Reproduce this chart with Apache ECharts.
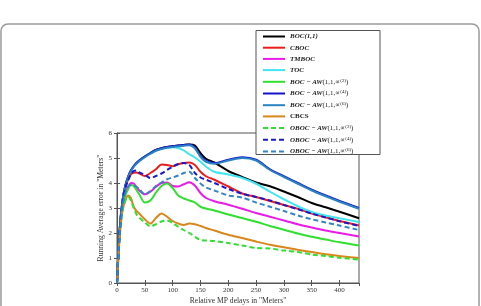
<!DOCTYPE html>
<html>
<head>
<meta charset="utf-8">
<script src="https://cdn.jsdelivr.net/npm/echarts@6/dist/echarts.min.js"></script>
<style>
  html, body { margin: 0; padding: 0; background: #fff; }
  #chart { width: 481px; height: 306px; }
</style>
</head>
<body>
<div id="chart"></div>
<script>
// x positions (relative MP delay, meters)
var delays = [0, 5, 10, 15, 20, 25, 30, 35, 40, 50, 60, 70, 80, 90, 100, 110, 120, 130, 140, 150, 160, 175, 200, 225, 250, 275, 300, 325, 350, 375, 400, 435];

// running average error per technique
var boc     = [0, 2.2, 3.3, 3.9, 4.25, 4.5, 4.67, 4.8, 4.9, 5.06, 5.2, 5.32, 5.39, 5.44, 5.47, 5.5, 5.52, 5.54, 5.5, 5.2, 4.97, 4.82, 4.48, 4.24, 4.02, 3.87, 3.66, 3.44, 3.2, 3.03, 2.85, 2.59];
var cboc    = [0, 2.1, 3.2, 3.8, 4.15, 4.35, 4.41, 4.42, 4.38, 4.28, 4.4, 4.55, 4.74, 4.72, 4.67, 4.75, 4.8, 4.82, 4.72, 4.45, 4.27, 4.13, 3.86, 3.58, 3.44, 3.28, 3.12, 2.97, 2.78, 2.63, 2.48, 2.3];
var tmboc   = [0, 2.0, 3.1, 3.6, 3.85, 4.0, 3.98, 3.83, 3.7, 3.55, 3.65, 3.85, 4.0, 4.02, 3.88, 3.86, 3.95, 4.03, 3.9, 3.6, 3.4, 3.27, 3.13, 2.97, 2.8, 2.65, 2.5, 2.35, 2.22, 2.1, 2.0, 1.86];
var toc     = [0, 2.2, 3.3, 3.9, 4.25, 4.5, 4.67, 4.8, 4.9, 5.06, 5.2, 5.3, 5.37, 5.42, 5.43, 5.4, 5.3, 5.15, 5.02, 4.85, 4.65, 4.45, 4.34, 4.2, 3.97, 3.65, 3.35, 3.07, 2.84, 2.7, 2.59, 2.44];
var bocAw2  = [0, 2.0, 3.0, 3.5, 3.75, 3.93, 3.88, 3.72, 3.55, 3.22, 3.3, 3.62, 3.88, 3.98, 3.8, 3.5, 3.38, 3.3, 3.22, 3.05, 2.98, 2.9, 2.74, 2.6, 2.45, 2.28, 2.13, 1.98, 1.85, 1.74, 1.63, 1.5];
var bocAw4  = [0, 2.2, 3.3, 3.9, 4.25, 4.5, 4.67, 4.8, 4.9, 5.06, 5.2, 5.32, 5.39, 5.44, 5.47, 5.5, 5.52, 5.54, 5.42, 5.08, 4.88, 4.8, 4.93, 5.03, 4.93, 4.55, 4.27, 4.0, 3.73, 3.5, 3.28, 3.0];
var bocAw6  = [0, 2.18, 3.27, 3.87, 4.22, 4.47, 4.64, 4.77, 4.87, 5.03, 5.17, 5.29, 5.36, 5.41, 5.44, 5.47, 5.49, 5.51, 5.39, 5.05, 4.85, 4.77, 4.9, 5.0, 4.9, 4.52, 4.24, 3.97, 3.7, 3.47, 3.25, 2.97];
var cbcs    = [0, 1.9, 2.9, 3.3, 3.5, 3.4, 3.05, 2.88, 2.78, 2.55, 2.38, 2.6, 2.78, 2.65, 2.48, 2.38, 2.32, 2.38, 2.35, 2.28, 2.2, 2.1, 1.93, 1.8, 1.66, 1.53, 1.43, 1.33, 1.24, 1.15, 1.08, 1.0];
var obocAw2 = [0, 1.9, 2.9, 3.3, 3.45, 3.3, 3.0, 2.75, 2.62, 2.42, 2.27, 2.35, 2.46, 2.5, 2.4, 2.25, 2.12, 2.0, 1.85, 1.72, 1.7, 1.68, 1.6, 1.5, 1.4, 1.38, 1.3, 1.24, 1.14, 1.08, 1.01, 0.94];
var obocAw4 = [0, 2.1, 3.2, 3.8, 4.1, 4.35, 4.48, 4.5, 4.42, 4.33, 4.2, 4.28, 4.38, 4.52, 4.65, 4.76, 4.8, 4.72, 4.4, 4.22, 4.13, 4.0, 3.76, 3.57, 3.44, 3.3, 3.12, 2.95, 2.78, 2.62, 2.47, 2.28];
var obocAw6 = [0, 2.0, 3.1, 3.6, 3.85, 3.92, 3.9, 3.85, 3.76, 3.55, 3.68, 3.88, 4.02, 4.15, 4.22, 4.3, 4.4, 4.45, 4.2, 3.98, 3.82, 3.7, 3.5, 3.42, 3.22, 3.05, 2.88, 2.7, 2.55, 2.42, 2.3, 2.12];

// legend labels (rich text)
var labels = {
  'BOC(1,1)': '{i|BOC(1,1)}',
  'CBOC': '{i|CBOC}',
  'TMBOC': '{i|TMBOC}',
  'TOC': '{i|TOC}',
  'BOC-AW2': '{i|BOC − AW}{n|(1,1,∝}{s|(2)}{n|)}',
  'BOC-AW4': '{i|BOC − AW}{n|(1,1,∝}{s|(4)}{n|)}',
  'BOC-AW6': '{i|BOC − AW}{n|(1,1,∝}{s|(6)}{n|)}',
  'CBCS': '{b|CBCS}',
  'OBOC-AW2': '{i|OBOC − AW}{n|(1,1,∝}{s|(2)}{n|)}',
  'OBOC-AW4': '{i|OBOC − AW}{n|(1,1,∝}{s|(4)}{n|)}',
  'OBOC-AW6': '{i|OBOC − AW}{n|(1,1,∝}{s|(6)}{n|)}'
};

function pairs(ys) {
  return delays.map(function (x, i) { return [x, ys[i]]; });
}

function line(name, ys, color, dashed) {
  return {
    name: name,
    type: 'line',
    data: pairs(ys),
    smooth: 0.3,
    symbol: 'none',
    lineStyle: { color: color, width: 2, type: dashed ? [5, 3] : 'solid' },
    itemStyle: { color: color }
  };
}

var chart = echarts.init(document.getElementById('chart'));

var axisFont = { fontFamily: 'Liberation Serif', fontSize: 7, color: '#333' };

chart.setOption({
  animation: false,
  backgroundColor: '#fff',
  textStyle: { fontFamily: 'Liberation Serif' },
  graphic: [{
    type: 'rect',
    shape: { x: 1, y: 24, width: 478, height: 300, r: 7 },
    style: { fill: 'none', stroke: '#9a9a9a', lineWidth: 1.5 },
    silent: true,
    z: -10
  }, {
    // legend frame
    type: 'rect',
    shape: { x: 256, y: 30.5, width: 124, height: 124 },
    style: { fill: '#fff', stroke: '#555', lineWidth: 1 },
    silent: true,
    z: 10
  }],
  grid: { left: 117, right: 122, top: 133, bottom: 20, show: true, borderColor: '#555', borderWidth: 1 },
  legend: {
    orient: 'vertical',
    left: 256,
    top: 31,
    padding: [2, 4, 3, 6],
    itemWidth: 22,
    itemHeight: 8,
    itemGap: 4.2,
    itemStyle: { opacity: 0 },
    z: 20,
    formatter: function (name) { return labels[name]; },
    textStyle: {
      fontFamily: 'Liberation Serif',
      fontSize: 7,
      color: '#222',
      rich: {
        i: { fontFamily: 'Liberation Serif', fontStyle: 'italic', fontWeight: 'bold', fontSize: 7, color: '#222', lineHeight: 8 },
        n: { fontFamily: 'Liberation Serif', fontSize: 7, color: '#222', lineHeight: 8 },
        b: { fontFamily: 'Liberation Serif', fontWeight: 'bold', fontSize: 7, color: '#222', lineHeight: 8 },
        s: { fontFamily: 'Liberation Serif', fontSize: 5, color: '#222', verticalAlign: 'top', lineHeight: 8 }
      }
    }
  },
  xAxis: [{
    type: 'value',
    min: 0,
    max: 435,
    interval: 50,
    name: 'Relative MP delays in "Meters"',
    nameLocation: 'middle',
    nameMoveOverlap: false,
    nameGap: 14,
    nameTextStyle: { fontFamily: 'Liberation Serif', fontSize: 7.6, color: '#333' },
    axisLine: { lineStyle: { color: '#555' } },
    axisTick: { inside: true, length: 3, lineStyle: { color: '#555' } },
    axisLabel: Object.assign({ margin: 4, showMaxLabel: false }, axisFont),
    splitLine: { show: false }
  }, {
    type: 'value',
    position: 'top',
    min: 0,
    max: 435,
    interval: 50,
    axisLine: { lineStyle: { color: '#555' } },
    axisTick: { inside: true, length: 3, lineStyle: { color: '#555' } },
    axisLabel: { show: false },
    splitLine: { show: false }
  }],
  yAxis: [{
    type: 'value',
    min: 0,
    max: 6,
    interval: 1,
    name: 'Running Average error in "Meters"',
    nameLocation: 'middle',
    nameMoveOverlap: false,
    nameGap: 12,
    nameTextStyle: { fontFamily: 'Liberation Serif', fontSize: 7.6, color: '#333' },
    axisLine: { show: true, lineStyle: { color: '#555' } },
    axisTick: { show: true, inside: true, length: 3, lineStyle: { color: '#555' } },
    axisLabel: Object.assign({ margin: 5 }, axisFont),
    splitLine: { show: false }
  }, {
    type: 'value',
    position: 'right',
    min: 0,
    max: 6,
    interval: 1,
    axisLine: { show: true, lineStyle: { color: '#555' } },
    axisTick: { show: true, inside: true, length: 3, lineStyle: { color: '#555' } },
    axisLabel: { show: false },
    splitLine: { show: false }
  }],
  series: [
    line('BOC(1,1)', boc, '#000000', false),
    line('CBOC', cboc, '#ee1c1c', false),
    line('TMBOC', tmboc, '#ea1aea', false),
    line('TOC', toc, '#3fe6f2', false),
    line('BOC-AW2', bocAw2, '#2fe02f', false),
    line('BOC-AW4', bocAw4, '#1414cc', false),
    line('BOC-AW6', bocAw6, '#2a82c4', false),
    line('CBCS', cbcs, '#d9861c', false),
    line('OBOC-AW2', obocAw2, '#33dd33', true),
    line('OBOC-AW4', obocAw4, '#1a1acc', true),
    line('OBOC-AW6', obocAw6, '#3584c4', true)
  ]
});
</script>
</body>
</html>
